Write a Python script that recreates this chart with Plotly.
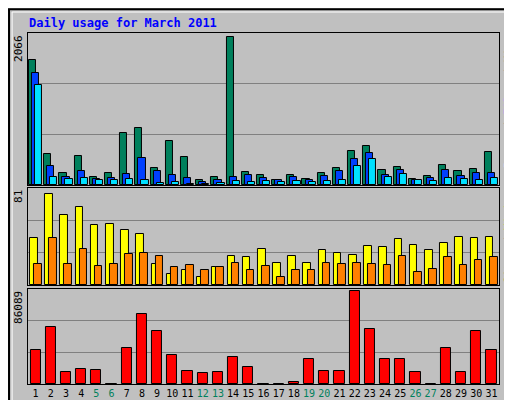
import plotly.graph_objects as go

days = list(range(1, 32))
hits = [1743, 439, 164, 411, 117, 164, 720, 790, 243, 608, 397, 75, 117, 2066, 187, 145,
        75, 145, 89, 164, 243, 481, 538, 215, 257, 89, 131, 285, 201, 229, 467]
files = [1561, 271, 117, 201, 89, 103, 159, 383, 201, 145, 103, 47, 75, 117, 145, 103,
         75, 117, 75, 131, 201, 369, 453, 145, 215, 75, 103, 215, 131, 173, 173]
pages = [1393, 117, 89, 103, 75, 75, 89, 75, 33, 47, 14, 19, 33, 61, 47, 61,
         47, 61, 47, 61, 75, 271, 369, 117, 159, 75, 61, 103, 89, 75, 103]
visits = [42, 81, 63, 70, 54, 55, 49, 46, 19, 10, 13, 7, 16, 26, 25, 32,
          20, 26, 20, 31, 29, 27, 35, 34, 41, 36, 31, 38, 43, 42, 43]
sites = [19, 42, 19, 32, 17, 19, 28, 29, 26, 16, 18, 13, 16, 20, 13, 17,
         7, 13, 13, 20, 19, 20, 19, 18, 26, 12, 14, 25, 18, 22, 25]
kbytes = [31420, 52160, 10680, 13510, 12570, 300, 33300, 64410, 49330, 26710, 11630, 9740,
          10680, 24820, 15400, 300, 300, 2200, 22940, 11630, 11630, 86089, 50270, 22940,
          22940, 10680, 300, 33300, 10680, 49330, 31420]
weekend = [5, 6, 12, 13, 19, 20, 26, 27]

mono = "DejaVu Sans Mono"
fig = go.Figure()

def bars(vals, shift, width, color, xa, ya):
    fig.add_trace(go.Bar(x=[d + shift for d in days], y=vals, width=width,
                         marker=dict(color=color, line=dict(color="black", width=1)),
                         xaxis=xa, yaxis=ya, showlegend=False))

bars(hits, -0.2, 0.47, "#00805c", "x", "y")
bars(files, 0.0, 0.47, "#0040ff", "x", "y")
bars(pages, 0.2, 0.47, "#00e0ff", "x", "y")
bars(visits, -0.12, 0.5, "#ffff00", "x2", "y2")
bars(sites, 0.15, 0.5, "#ff8000", "x2", "y2")
bars(kbytes, 0.0, 0.67, "#ff0000", "x3", "y3")

ticktext = [f"<span style='color:#00805c'>{d}</span>" if d in weekend else str(d) for d in days]

def xax(show):
    return dict(domain=[0.039, 0.959], range=[0.5, 31.5], showgrid=False, zeroline=False,
                showline=True, mirror=True, linecolor="black", linewidth=1,
                tickvals=days if show else [], ticktext=ticktext if show else None,
                tickangle=0, ticks="", tickfont=dict(family=mono, size=10, color="black"))

def yax(top, dom, anchor):
    return dict(domain=dom, range=[0, top], anchor=anchor, tickvals=[top / 3, 2 * top / 3],
                showticklabels=False, gridcolor="#808080", gridwidth=1, zeroline=False,
                showline=True, mirror=True, linecolor="black", linewidth=1)

fig.update_layout(
    width=512, height=400, margin=dict(l=0, r=0, t=0, b=0),
    paper_bgcolor="#c0c0c0", plot_bgcolor="#c0c0c0", bargap=0, barmode="overlay",
    xaxis=dict(xax(False), anchor="y"), yaxis=yax(2122, [0.5575, 0.9375], "x"),
    xaxis2=dict(xax(False), anchor="y2"), yaxis2=yax(86.8, [0.3075, 0.55], "x2"),
    xaxis3=dict(xax(True), anchor="y3"), yaxis3=yax(87600, [0.06, 0.2975], "x3"),
    font=dict(family=mono),
)

fig.add_annotation(text="<b>Daily usage for March 2011</b>", x=0.037, y=0.962, xref="paper", yref="paper",
                   xanchor="left", yanchor="middle", showarrow=False,
                   font=dict(family=mono, size=12, color="#0000ff"))
for txt, y in [("2066", 0.9375), ("81", 0.55), ("86089", 0.2975)]:
    fig.add_annotation(text=txt, x=0.037, y=y, xref="paper", yref="paper", textangle=-90,
                       xanchor="right", yanchor="top", showarrow=False,
                       font=dict(family=mono, size=11, color="black"))
fig.add_annotation(text="<span style='color:#00e0ff'>Pages</span> / <span style='color:#0040ff'>Files</span> / <span style='color:#00805c'>Hits</span>",
                   x=0.978, y=0.9375, xref="paper", yref="paper", textangle=-90,
                   xanchor="center", yanchor="top", showarrow=False, font=dict(family=mono, size=11))
fig.add_annotation(text="<span style='color:#ff8000'>Sites</span> / <span style='color:#ffff00'>Visits</span>",
                   x=0.978, y=0.55, xref="paper", yref="paper", textangle=-90,
                   xanchor="center", yanchor="top", showarrow=False, font=dict(family=mono, size=11))
fig.add_annotation(text="<span style='color:#ff0000'>KBytes</span>",
                   x=0.978, y=0.06, xref="paper", yref="paper", textangle=-90,
                   xanchor="center", yanchor="bottom", showarrow=False, font=dict(family=mono, size=11))

fig.add_shape(type="rect", xref="paper", yref="paper", x0=0.002, y0=0.003, x1=0.998, y1=0.997,
              line=dict(color="black", width=2))
fig.add_shape(type="rect", xref="paper", yref="paper", x0=0.008, y0=0.01, x1=0.99, y1=0.99,
              line=dict(color="white", width=1))

fig.write_html("out.html")
